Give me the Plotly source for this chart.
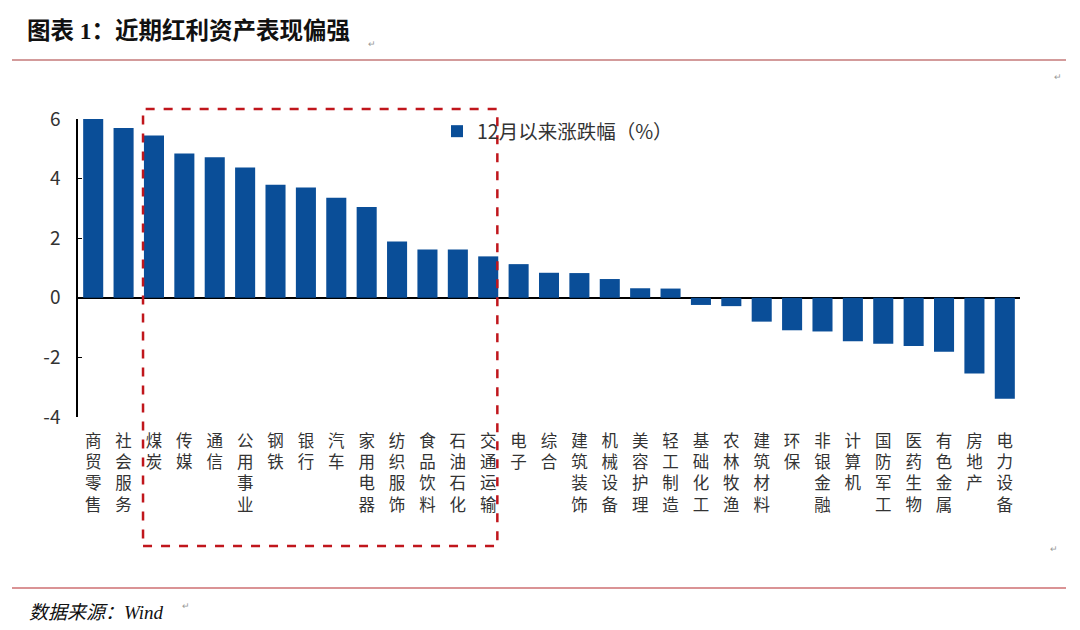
import plotly.graph_objects as go

categories = ["商贸零售", "社会服务", "煤炭", "传媒", "通信", "公用事业", "钢铁", "银行",
              "汽车", "家用电器", "纺织服饰", "食品饮料", "石油石化", "交通运输", "电子",
              "综合", "建筑装饰", "机械设备", "美容护理", "轻工制造", "基础化工", "农林牧渔",
              "建筑材料", "环保", "非银金融", "计算机", "国防军工", "医药生物", "有色金属",
              "房地产", "电力设备"]
values = [6.00, 5.70, 5.45, 4.84, 4.72, 4.37, 3.79, 3.70, 3.36, 3.05, 1.89, 1.62, 1.62,
          1.39, 1.13, 0.84, 0.83, 0.63, 0.32, 0.31, -0.24, -0.28, -0.80, -1.09, -1.13,
          -1.46, -1.54, -1.62, -1.81, -2.54, -3.39]
series_name = "12月以来涨跌幅（%）"
y_ticks = [-4, -2, 0, 2, 4, 6]
y_tick_labels = ["-4", "-2", "0", "2", "4", "6"]
title_text = "图表 1：近期红利资产表现偏强"
source_text = "数据来源：Wind"

# page has an 8px body margin; figure coordinates = reference pixels - OFF
OFF = 8
W, H = 1080 - 2 * OFF, 630 - 2 * OFF
PLOT_L, PLOT_R, PLOT_T, PLOT_B = 78, 1020, 119, 417  # in reference pixels
ML, MT = PLOT_L - OFF, PLOT_T - OFF
MR, MB = W - (PLOT_R - OFF), H - (PLOT_B - OFF)
PW, PH = PLOT_R - PLOT_L, PLOT_B - PLOT_T


def px(x):
    return (x - PLOT_L) / PW


def py(y):
    return (PLOT_B - y) / PH


FONT = "Noto Sans CJK SC"
SERIF = "Liberation Serif, Noto Sans CJK SC"
vertical_labels = ["<br>".join(list(c)) for c in categories]

fig = go.Figure()
fig.add_trace(go.Bar(
    x=categories, y=values, name=series_name,
    marker=dict(color="#0A4E98", line=dict(width=0)),
))

fig.update_layout(
    width=W, height=H,
    margin=dict(l=ML, r=MR, t=MT, b=MB, pad=0),
    paper_bgcolor="white", plot_bgcolor="white",
    bargap=0.34,
    showlegend=True,
    legend=dict(x=px(437), y=py(112), xanchor="left", yanchor="top",
                font=dict(family=FONT, size=19.5, color="#333333"),
                bgcolor="rgba(0,0,0,0)", itemwidth=30),
    title=dict(text="<b>" + title_text + "</b>", xref="container", x=(27 - OFF) / W,
               xanchor="left", yref="container", y=1 - (31 - OFF) / H, yanchor="middle",
               font=dict(family=SERIF, size=23.5, color="#111111")),
    font=dict(family=FONT, color="#333333"),
)

fig.update_xaxes(
    type="category", tickmode="array", tickvals=categories, ticktext=vertical_labels,
    showline=False, showgrid=False, ticks="", ticklabelstandoff=12,
    tickfont=dict(family=FONT, size=16.5, color="#333333"),
    range=[-0.5, len(categories) - 0.5],
)
fig.update_yaxes(
    range=[-4, 6], tickmode="array", tickvals=y_ticks, ticktext=y_tick_labels,
    showgrid=False,
    showline=True, linecolor="#000000", linewidth=1.5,
    ticks="inside", ticklen=4, tickcolor="#000000",
    zeroline=True, zerolinecolor="#000000", zerolinewidth=1.5,
    tickfont=dict(family=FONT, size=19, color="#333333"), ticklabelstandoff=12,
)

# red dashed highlight box around 煤炭 ... 交通运输
fig.add_shape(type="rect", xref="x", yref="paper",
              x0=categories.index("煤炭") - 0.36, x1=categories.index("交通运输") + 0.30,
              y0=py(546), y1=py(109),
              line=dict(color="#C0161C", width=2.5, dash="dash"), fillcolor="rgba(0,0,0,0)")

# report separator lines
fig.add_shape(type="line", xref="paper", yref="paper", x0=px(12), x1=px(1066),
              y0=py(60), y1=py(60), line=dict(color="#C47A7A", width=1.5))
fig.add_shape(type="line", xref="paper", yref="paper", x0=px(12), x1=px(1066),
              y0=py(588), y1=py(588), line=dict(color="#B5292C", width=1.2))

fig.add_annotation(text=source_text, xref="paper", yref="paper", x=px(27), y=py(612),
                   xanchor="left", yanchor="middle", showarrow=False,
                   font=dict(family=SERIF, size=19, color="#111111", style="italic"))

# paragraph marks
for (mx, my) in [(366, 35), (1064, 68), (1060, 557), (180, 614)]:
    fig.add_annotation(text="↵", xref="paper", yref="paper", x=px(mx), y=py(my),
                       showarrow=False, font=dict(size=9, color="#999999"))

fig.write_html("out.html")
